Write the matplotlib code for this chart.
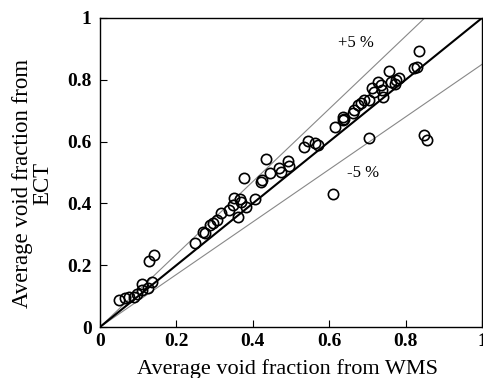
import matplotlib
matplotlib.use("Agg")
import matplotlib.pyplot as plt
import numpy as np

# Data (WMS, ECT)
wms = [0.050, 0.065, 0.077, 0.089, 0.097, 0.109, 0.109, 0.126, 0.137, 0.129, 0.141,
       0.248, 0.274, 0.270, 0.287, 0.296, 0.305, 0.318, 0.339, 0.348, 0.352, 0.367,
       0.368, 0.361, 0.383, 0.407, 0.376, 0.422, 0.424, 0.435, 0.444, 0.468, 0.474,
       0.492, 0.494, 0.533, 0.544, 0.564, 0.570, 0.611, 0.614, 0.635, 0.635, 0.638,
       0.663, 0.666, 0.675, 0.683, 0.692, 0.705, 0.703, 0.712, 0.718, 0.729, 0.735,
       0.738, 0.740, 0.757, 0.762, 0.771, 0.775, 0.783, 0.822, 0.831, 0.834, 0.849,
       0.857]
ect = [0.087, 0.093, 0.098, 0.096, 0.106, 0.120, 0.138, 0.125, 0.147, 0.214, 0.233,
       0.273, 0.303, 0.308, 0.330, 0.336, 0.346, 0.370, 0.379, 0.395, 0.416, 0.413,
       0.406, 0.357, 0.389, 0.413, 0.481, 0.470, 0.475, 0.543, 0.497, 0.514, 0.503,
       0.537, 0.522, 0.584, 0.603, 0.594, 0.589, 0.429, 0.646, 0.680, 0.670, 0.673,
       0.692, 0.702, 0.718, 0.724, 0.735, 0.735, 0.611, 0.772, 0.761, 0.794, 0.783,
       0.767, 0.745, 0.828, 0.794, 0.788, 0.799, 0.805, 0.837, 0.842, 0.894, 0.621,
       0.605]

ticks = [0, 0.2, 0.4, 0.6, 0.8, 1]
tick_labels = ["0", "0.2", "0.4", "0.6", "0.8", "1"]
upper_slope = 1 / 0.85
lower_slope = 0.85

plt.rcParams['font.family'] = ['Liberation Serif', 'DejaVu Serif']

fig = plt.figure(figsize=(4.83, 3.78), dpi=100)
ax = fig.add_axes([100/483, 1-327/378, 382/483, (327-18)/378])

xs = np.array([0, 1])
ax.plot(xs, xs, color='black', lw=1.5, zorder=2)
ax.plot(xs, upper_slope * xs, color='#888888', lw=0.8, zorder=1)
ax.plot(xs, lower_slope * xs, color='#888888', lw=0.8, zorder=1)

ax.plot(wms, ect, linestyle='none', marker='o', markersize=7.4,
        markerfacecolor='none', markeredgecolor='black', markeredgewidth=1.2, zorder=3)

ax.text(0.670, 0.920, "+5 %", fontsize=12, ha='center', va='center')
ax.text(0.688, 0.497, "-5 %", fontsize=12, ha='center', va='center')

ax.set_xlim(0, 1)
ax.set_ylim(0, 1)
ax.set_xticks(ticks)
ax.set_xticklabels(tick_labels, fontweight='bold', fontsize=14)
ax.set_yticks(ticks)
ax.set_yticklabels(tick_labels, fontweight='bold', fontsize=14)
ax.tick_params(direction='in', length=5, width=0.8, pad=4)
ax.tick_params(axis='y', pad=6)
for s in ax.spines.values():
    s.set_linewidth(1.0)

fig.text(287.5/483, 1-374/378, "Average void fraction from WMS", fontsize=16,
         ha='center', va='baseline')
fig.text(0.5, 0.5, "Average void fraction from\nECT", fontsize=16.5,
         ha='center', va='center', rotation=90, multialignment='center',
         linespacing=0.95, transform=fig.transFigure,
         position=(33/483, 1-183/378))

fig.savefig("out.png", dpi=100)
